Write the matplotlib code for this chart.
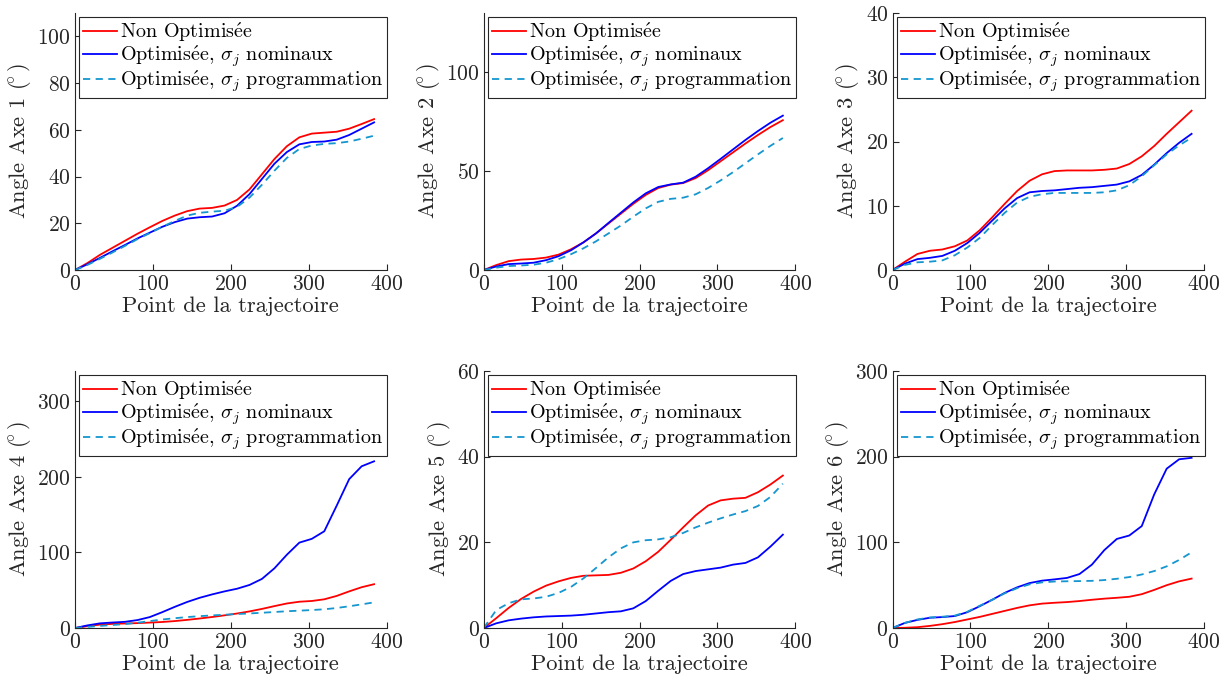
import matplotlib
matplotlib.use("Agg")
import matplotlib.pyplot as plt
import numpy as np

plt.rcParams['font.family'] = ['cmr10', 'DejaVu Serif']
plt.rcParams['mathtext.fontset'] = 'cm'
plt.rcParams['axes.formatter.use_mathtext'] = True
plt.rcParams['axes.unicode_minus'] = False

# points of the trajectory (every 16th point)
pts = [0, 16, 32, 48, 64, 80, 96, 112, 128, 144, 160, 176, 192, 208, 224,
       240, 256, 272, 288, 304, 320, 336, 352, 368, 384]

# axe 1
a1_non = [0, 3, 6.5, 9.5, 12.5, 15.5, 18.3, 21, 23.3, 25.2, 26.3, 26.6, 27.6, 30, 34.5,
          41, 47.5, 53, 56.8, 58.4, 58.8, 59.2, 60.5, 62.5, 64.6]
a1_nom = [0, 2.5, 5.2, 8, 10.7, 13.5, 16, 18.5, 20.5, 22, 22.6, 22.9, 24.3, 27.5, 32.5,
          39, 45.5, 50.5, 53.8, 54.8, 55, 55.8, 57.8, 60.5, 63.2]
a1_prog = [0, 2.2, 4.8, 7.5, 10.3, 13.2, 15.8, 18.5, 21, 23.3, 24.5, 25, 25.4, 27, 31,
           36.5, 42.5, 48, 51.8, 53.3, 54, 54.3, 55, 56.2, 57.5]

# axe 2
a2_non = [0, 2.5, 4.5, 5.3, 5.6, 6.3, 7.8, 10.5, 14, 18.5, 23.5, 28.5, 33.5, 38, 41.5,
          43.2, 44, 46.5, 50.5, 55, 59.5, 64, 68.3, 72.3, 75.8]
a2_nom = [0, 1.8, 3, 3.3, 3.7, 5, 7, 10, 14, 18.5, 23.8, 29, 34.2, 38.8, 42,
          43.3, 44.2, 47.2, 51.5, 56.2, 61, 65.8, 70.3, 74.5, 78.1]
a2_prog = [0, 1.2, 2, 2.3, 2.7, 3.7, 5.5, 8, 11, 14.5, 18.5, 22.5, 27, 31.2, 34.5,
           36, 36.6, 38.3, 41.5, 45.3, 49.5, 54, 58.5, 62.8, 66.8]

# axe 3
a3_non = [0, 1.3, 2.5, 3.0, 3.2, 3.7, 4.6, 6.2, 8.2, 10.3, 12.3, 13.9, 14.9, 15.4, 15.5,
          15.5, 15.5, 15.6, 15.8, 16.5, 17.7, 19.3, 21.2, 23, 24.8]
a3_nom = [0, 1, 1.7, 1.9, 2.2, 3, 4.2, 5.8, 7.7, 9.6, 11.2, 12.1, 12.3, 12.4, 12.6,
          12.8, 12.9, 13.1, 13.3, 13.8, 14.8, 16.4, 18.2, 19.8, 21.2]
a3_prog = [0, 0.8, 1.2, 1.3, 1.5, 2.3, 3.5, 5, 7, 8.9, 10.5, 11.4, 11.8, 12, 12,
           12, 12, 12.1, 12.4, 13.2, 14.6, 16.3, 18, 19.4, 20.6]

# axe 4
a4_non = [0, 2.5, 4.5, 5.5, 6, 6.5, 7.2, 8, 9.2, 10.8, 12.6, 14.6, 16.8, 19.2, 22,
          25.3, 29, 32.5, 34.8, 35.8, 38, 42.5, 48.5, 54, 58]
a4_nom = [0, 3.5, 6.2, 7.3, 8.2, 10.5, 14.5, 21, 28, 34.5, 40, 44.5, 48.5, 52, 57,
          65, 79, 97, 113, 118, 128, 162, 197, 214, 220.6]
a4_prog = [0, 1.5, 2.8, 4, 5.2, 7, 9.2, 11.3, 13, 14.5, 15.7, 16.7, 17.6, 18.5, 19.3,
           20.2, 21.2, 22.2, 23, 23.8, 24.8, 26.5, 28.8, 31.3, 34]

# axe 5
a5_non = [0, 2.3, 4.7, 6.8, 8.5, 9.9, 10.9, 11.7, 12.2, 12.3, 12.4, 12.9, 13.9, 15.6, 17.8,
          20.6, 23.5, 26.3, 28.6, 29.8, 30.2, 30.4, 31.7, 33.5, 35.6]
a5_nom = [0, 1.1, 1.8, 2.2, 2.5, 2.7, 2.8, 2.9, 3.1, 3.4, 3.7, 3.9, 4.6, 6.3, 8.7,
          11, 12.6, 13.3, 13.7, 14.1, 14.8, 15.2, 16.5, 19, 21.8]
a5_prog = [0, 4.2, 5.8, 6.7, 6.9, 7.3, 8.2, 9.6, 11.6, 14, 16.5, 18.6, 20, 20.5, 20.7,
           21.2, 22.2, 23.5, 24.6, 25.6, 26.5, 27.3, 28.5, 30.6, 33.7]

# axe 6
a6_non = [0, 0.3, 1, 2.5, 4.5, 7, 10, 13, 16.5, 20, 23.5, 26.5, 28.5, 29.5, 30.3,
          31.5, 33, 34.3, 35.3, 36.5, 39.5, 44.5, 50, 54.5, 57.7]
a6_nom = [0, 6, 9.5, 12, 12.8, 14, 18.5, 25.5, 33, 41, 47.5, 52.5, 55.3, 56.8, 58.5,
          63, 74, 91, 104, 108, 119, 156, 186, 197, 198.7]
a6_prog = [0, 6, 10, 12.3, 13.2, 14.5, 19, 26, 33, 40.5, 46.5, 51, 53.3, 54.3, 54.6,
           54.8, 55.1, 56, 57.5, 59.5, 62.5, 66.5, 72, 79.5, 88.4]

non_opt = [a1_non, a2_non, a3_non, a4_non, a5_non, a6_non]
opt_nom = [a1_nom, a2_nom, a3_nom, a4_nom, a5_nom, a6_nom]
opt_prog = [a1_prog, a2_prog, a3_prog, a4_prog, a5_prog, a6_prog]
ylims = [110, 130, 40, 340, 60, 300]
yticks = [[0, 20, 40, 60, 80, 100], [0, 50, 100], [0, 10, 20, 30, 40],
          [0, 100, 200, 300], [0, 20, 40, 60], [0, 100, 200, 300]]

# cmr10 has no é, so it goes through mathtext
opt = r'Optimis$\mathrm{\acute{e}}$e'
labels = [r'Non ' + opt, opt + r', $\sigma_j$ nominaux', opt + r', $\sigma_j$ programmation']

grey = '#262626'

fig, axes = plt.subplots(2, 3, figsize=(12.28, 6.86), dpi=100)
plt.subplots_adjust(left=0.0611, right=0.9805, bottom=0.0845, top=0.981,
                    wspace=0.312, hspace=0.393)

for i, ax in enumerate(axes.flat):
    ax.plot(pts, non_opt[i], color='#ff0000', lw=1.3, label=labels[0])
    ax.plot(pts, opt_nom[i], color='#0000ff', lw=1.3, label=labels[1])
    ax.plot(pts, opt_prog[i], color='#1596cf', lw=1.3, ls='--', dashes=(4, 3),
            label=labels[2])
    ax.set_xlim(0, 400)
    ax.set_ylim(0, ylims[i])
    ax.set_xticks([0, 100, 200, 300, 400])
    ax.set_yticks(yticks[i])
    ax.spines['top'].set_visible(False)
    ax.spines['right'].set_visible(False)
    for s in ['left', 'bottom']:
        ax.spines[s].set_color(grey)
        ax.spines[s].set_linewidth(0.8)
    ax.tick_params(direction='in', length=4, width=0.8, colors=grey, labelsize=15.5, pad=3)
    ax.set_xlabel('Point de la trajectoire', fontsize=16.2, color=grey, labelpad=2)
    ax.set_ylabel('Angle Axe %d $(\\!\\!^\\circ)$' % (i + 1), fontsize=16.2, color=grey, labelpad=3)
    leg = ax.legend(loc='upper left', fontsize=14.5, fancybox=False, framealpha=1,
                    edgecolor=grey, borderpad=0.2, labelspacing=-0.05, handlelength=1.7,
                    handletextpad=0.15, borderaxespad=0.2)
    leg.get_frame().set_linewidth(0.8)

plt.savefig('out.png', dpi=100)
